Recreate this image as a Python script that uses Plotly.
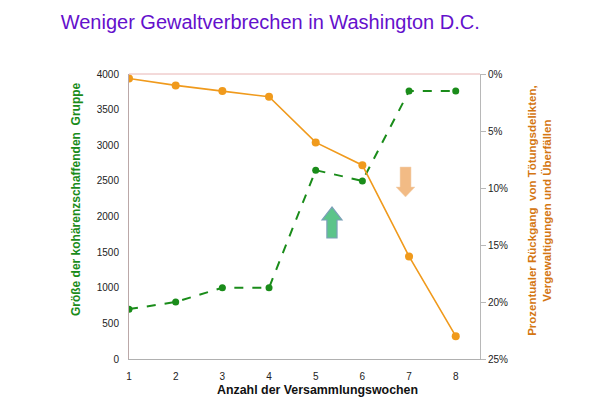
import plotly.graph_objects as go

weeks = [1, 2, 3, 4, 5, 6, 7, 8]
group_size = [700, 800, 1000, 1000, 2650, 2500, 3760, 3760]
crime_drop_pct = [0.4, 1.0, 1.5, 2.0, 6.0, 8.0, 16.0, 23.0]
left_ticks = [0, 500, 1000, 1500, 2000, 2500, 3000, 3500, 4000]
right_ticks = [0, 5, 10, 15, 20, 25]

GREEN = "#1a8c1a"
ORANGE = "#f09a1c"
FONT = "Liberation Sans, Arial, sans-serif"
TICKFONT = dict(family=FONT, size=10, color="#222222")

fig = go.Figure()
fig.add_trace(go.Scatter(
    x=weeks, y=group_size, mode="lines+markers",
    line=dict(color=GREEN, width=2, dash="dash"),
    marker=dict(color=GREEN, size=7), yaxis="y", showlegend=False,
))
fig.add_trace(go.Scatter(
    x=weeks, y=crime_drop_pct, mode="lines+markers",
    line=dict(color=ORANGE, width=1.6),
    marker=dict(color=ORANGE, size=8), yaxis="y2", showlegend=False,
))

def arrow_path(xl, xr, sl, sr, head_y, tail_y, tip_y):
    xc = (xl + xr) / 2
    return (f"M {sl} {tail_y} L {sl} {head_y} L {xl} {head_y} L {xc} {tip_y} "
            f"L {xr} {head_y} L {sr} {head_y} L {sr} {tail_y} Z")

shapes = [
    dict(type="line", xref="paper", yref="paper", x0=0, x1=1, y0=1, y1=1,
         line=dict(color="#e8b4b4", width=1)),
    dict(type="path", xref="x", yref="y",
         path=arrow_path(5.135, 5.564, 5.24, 5.457, 1951, 1698, 2133),
         fillcolor="#5cc48a", line=dict(color="#7a9fb8", width=1.2)),
    dict(type="path", xref="x", yref="y",
         path=arrow_path(6.72, 7.128, 6.807, 7.043, 2414, 2695, 2274),
         fillcolor="#f0b070", line=dict(color="#f3d2b0", width=0.5), opacity=0.85),
]

annotations = [
    dict(text="<b>Größe der kohärenzschaffenden  Gruppe</b>", xref="paper", yref="paper",
         x=-0.151, y=0.561, xanchor="center", yanchor="middle", textangle=-90, showarrow=False,
         font=dict(family=FONT, size=12, color=GREEN)),
    dict(text="<b>Prozentualer Rückgang  von Tötungsdelikten,<br>Vergewaltigungen und Überfällen</b>",
         xref="paper", yref="paper", x=1.171, y=0.52, xanchor="center", yanchor="middle",
         textangle=-90, showarrow=False,
         font=dict(family=FONT, size=11.5, color="#d47612")),
    dict(text="<b>Anzahl der Versammlungswochen</b>", xref="paper", yref="paper",
         x=0.537, y=-0.109, xanchor="center", yanchor="middle", showarrow=False,
         font=dict(family=FONT, size=12.4, color="#111111")),
]

fig.update_layout(
    width=592, height=397,
    margin=dict(l=121, r=120, t=66, b=46, autoexpand=False),
    paper_bgcolor="white", plot_bgcolor="white",
    title=dict(text="Weniger Gewaltverbrechen in Washington D.C.", x=0.443, xanchor="center",
               y=0.965, yanchor="middle",
               font=dict(family=FONT, size=20, color="#6410cc")),
    xaxis=dict(range=[1, 8.52], tickvals=weeks, ticktext=[str(w) for w in weeks],
               showgrid=False, zeroline=False, showline=True, linecolor="#b0b0b0", linewidth=1,
               ticks="", tickfont=TICKFONT, ticklabelstandoff=8, automargin=False),
    yaxis=dict(range=[0, 4000], tickvals=left_ticks, showgrid=False, zeroline=False,
               showline=True, linecolor="#bba8a8", linewidth=1, ticks="", tickfont=TICKFONT,
               ticklabelstandoff=7, automargin=False),
    yaxis2=dict(range=[25, 0], tickvals=right_ticks, ticktext=[f"{t}%" for t in right_ticks],
                overlaying="y", side="right", showgrid=False, zeroline=False,
                showline=True, linecolor="#b8b8b8", linewidth=1, ticks="outside", ticklen=5,
                tickcolor="#b8b8b8", tickfont=TICKFONT, automargin=False),
    shapes=shapes, annotations=annotations,
)

fig.write_html("out.html")
